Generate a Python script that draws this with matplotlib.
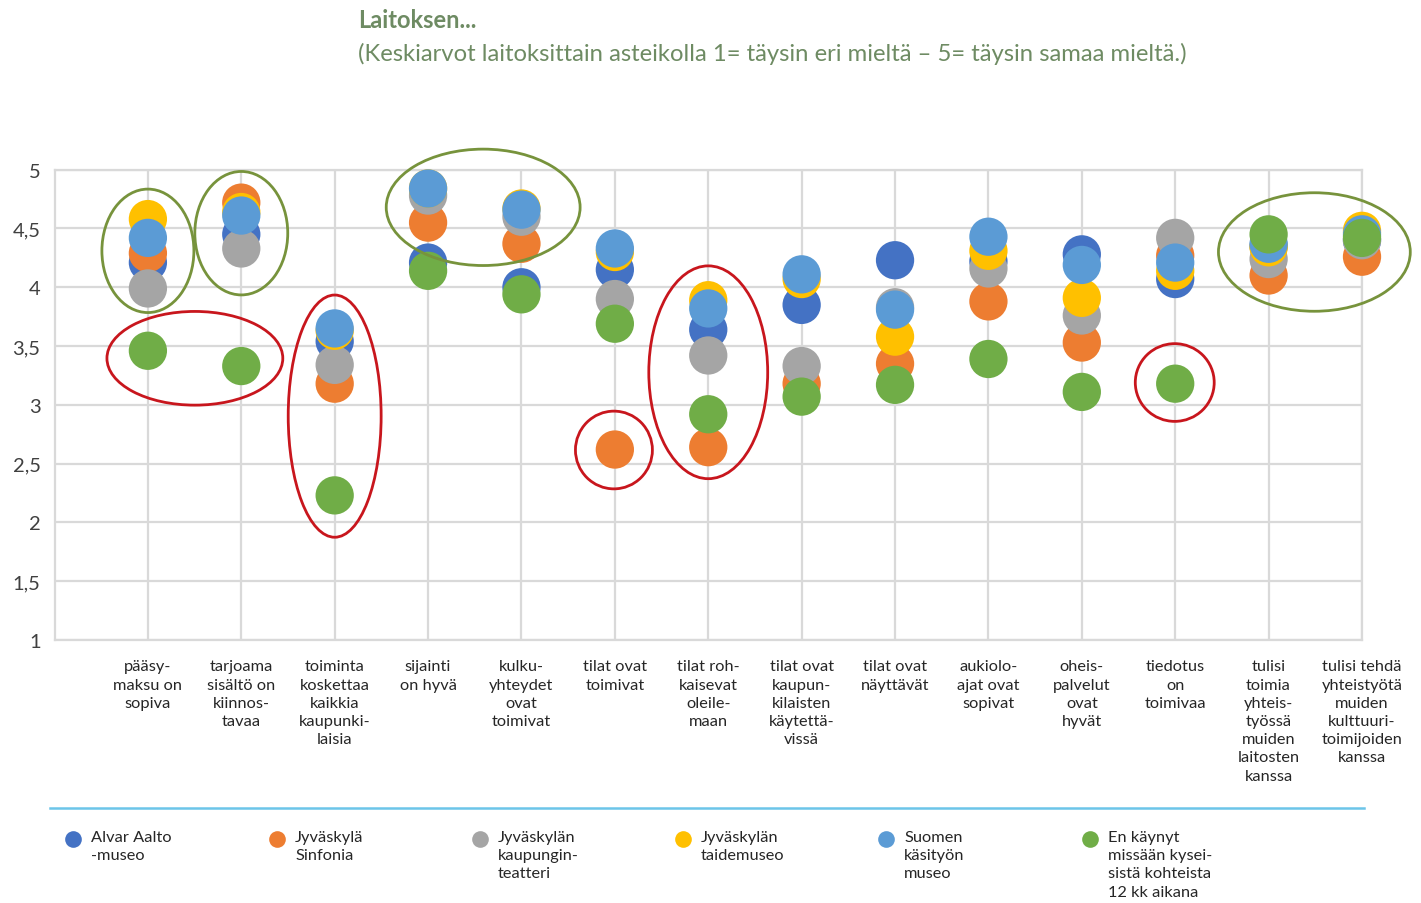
import matplotlib
matplotlib.use("Agg")
import matplotlib.pyplot as plt
from matplotlib.patches import Ellipse
from matplotlib.lines import Line2D

plt.rcParams['font.family'] = ['Lato', 'DejaVu Sans']

categories = [
    "pääsy-\nmaksu on\nsopiva",
    "tarjoama\nsisältö on\nkiinnos-\ntavaa",
    "toiminta\nkoskettaa\nkaikkia\nkaupunki-\nlaisia",
    "sijainti\non hyvä",
    "kulku-\nyhteydet\novat\ntoimivat",
    "tilat ovat\ntoimivat",
    "tilat roh-\nkaisevat\noleile-\nmaan",
    "tilat ovat\nkaupun-\nkilaisten\nkäytettä-\nvissä",
    "tilat ovat\nnäyttävät",
    "aukiolo-\najat ovat\nsopivat",
    "oheis-\npalvelut\novat\nhyvät",
    "tiedotus\non\ntoimivaa",
    "tulisi\ntoimia\nyhteis-\ntyössä\nmuiden\nlaitosten\nkanssa",
    "tulisi tehdä\nyhteistyötä\nmuiden\nkulttuuri-\ntoimijoiden\nkanssa",
]

series_names = [
    "Alvar Aalto\n-museo",
    "Jyväskylä\nSinfonia",
    "Jyväskylän\nkaupungin-\nteatteri",
    "Jyväskylän\ntaidemuseo",
    "Suomen\nkäsityön\nmuseo",
    "En käynyt\nmissään kysei-\nsistä kohteista\n12 kk aikana",
]
series_colors = ["#4472C4", "#ED7D31", "#A5A5A5", "#FFC000", "#5B9BD5", "#70AD47"]

alvar_aalto = [4.21, 4.45, 3.54, 4.21, 4.00, 4.15, 3.64, 3.85, 4.23, 4.22, 4.28, 4.07, 4.35, 4.40]
sinfonia    = [4.29, 4.72, 3.18, 4.55, 4.37, 2.62, 2.64, 3.18, 3.35, 3.88, 3.53, 4.27, 4.10, 4.26]
teatteri    = [3.99, 4.33, 3.34, 4.78, 4.60, 3.90, 3.42, 3.33, 3.83, 4.16, 3.76, 4.42, 4.24, 4.40]
taidemuseo  = [4.58, 4.64, 3.63, 4.84, 4.67, 4.30, 3.89, 4.07, 3.58, 4.31, 3.91, 4.14, 4.34, 4.48]
kasityo     = [4.42, 4.61, 3.65, 4.84, 4.66, 4.33, 3.82, 4.11, 3.81, 4.43, 4.19, 4.21, 4.37, 4.45]
ei_kaynyt   = [3.46, 3.33, 2.23, 4.14, 3.94, 3.69, 2.92, 3.07, 3.17, 3.39, 3.11, 3.18, 4.45, 4.42]
all_series = [alvar_aalto, sinfonia, teatteri, taidemuseo, kasityo, ei_kaynyt]

y_ticks = [1, 1.5, 2, 2.5, 3, 3.5, 4, 4.5, 5]
y_tick_labels = ["1", "1,5", "2", "2,5", "3", "3,5", "4", "4,5", "5"]

title1 = "Laitoksen..."
title2 = "(Keskiarvot laitoksittain asteikolla 1= täysin eri mieltä – 5= täysin samaa mieltä.)"

# annotation ellipses: (cx, cy, width, height, colour)
green_c = "#77933C"
red_c = "#C8161D"
highlights = [
    (1.0, 4.31, 0.985, 1.05, green_c),
    (2.0, 4.46, 0.995, 1.05, green_c),
    (1.503, 3.396, 1.883, 0.797, red_c),
    (3.0, 2.904, 0.995, 2.06, red_c),
    (4.59, 4.68, 2.076, 0.99, green_c),
    (5.99, 2.616, 0.824, 0.661, red_c),
    (7.0, 3.277, 1.273, 1.81, red_c),
    (11.995, 3.19, 0.845, 0.661, red_c),
    (13.49, 4.30, 2.054, 1.008, green_c),
]

W, H = 1421, 904
fig = plt.figure(figsize=(W / 100, H / 100), dpi=100)
ax = fig.add_axes([54.5 / W, 1 - 641 / H, (1362 - 54.5) / W, (641 - 170.7) / H])

x = list(range(1, len(categories) + 1))
grid_c = "#D9D9D9"
for s, col in zip(all_series, series_colors):
    ax.scatter(x, s, s=760, color=col, edgecolors='none', zorder=3, clip_on=False)

for cx, cy, w, h, c in highlights:
    ax.add_patch(Ellipse((cx, cy), w, h, fill=False, edgecolor=c, linewidth=2.0,
                         zorder=4, clip_on=False))

ax.set_xlim(0, 14)
ax.set_ylim(1, 5)
ax.set_xticks(x)
ax.set_xticklabels(categories, fontsize=11.8, color="#262626", linespacing=1.38)
ax.set_yticks(y_ticks)
ax.set_yticklabels(y_tick_labels, fontsize=14.5, color="#404040")
ax.tick_params(axis='both', length=0)
ax.tick_params(axis='x', pad=14)
ax.tick_params(axis='y', pad=10)
ax.grid(True, color=grid_c, linewidth=1.6, zorder=0)
ax.set_axisbelow(True)
for sp in ax.spines.values():
    sp.set_color(grid_c)
    sp.set_linewidth(1.6)

fig.text(358 / W, 1 - 20 / H, title1, fontsize=17, fontweight='bold', color="#6E8B63",
         ha='left', va='center')
fig.text(358 / W, 1 - 54 / H, title2, fontsize=17.2, color="#6E8B63", ha='left', va='center')

fig.add_artist(Line2D([50 / W, 1364 / W], [1 - 809 / H, 1 - 809 / H], color="#6CC5E9",
                      linewidth=1.8))

leg_x = [73, 277, 480, 683, 886, 1090]
for lx, name, col in zip(leg_x, series_names, series_colors):
    fig.add_artist(Line2D([lx / W], [1 - 840 / H], marker='o', markersize=12,
                          color=col, markeredgewidth=0))
    fig.text((lx + 18) / W, 1 - 831 / H, name, fontsize=11.8, color="#262626",
             ha='left', va='top', linespacing=1.38)

fig.savefig("out.png", dpi=100, facecolor="white")
